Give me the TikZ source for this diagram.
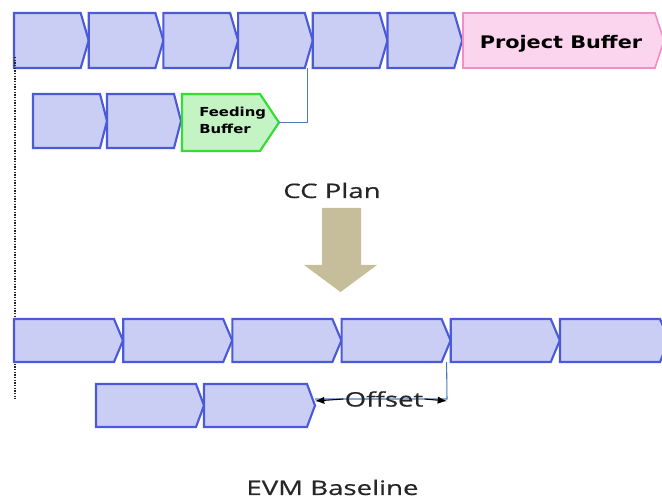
\documentclass[tikz,border=0pt]{standalone}
\usepackage{fontspec}
\setmainfont{Open Sans}
\newfontfamily\captionfont[FakeStretch=1.38,FakeBold=0.6]{Open Sans}
\newfontfamily\bufferfont[FakeStretch=1.2]{DejaVu Sans}
\usetikzlibrary{arrows.meta,calc}

\definecolor{taskfill}{HTML}{CBCEF4}
\definecolor{taskline}{HTML}{4A5AD8}
\definecolor{pbfill}{HTML}{FBD5EE}
\definecolor{pbline}{HTML}{F48CC6}
\definecolor{fbfill}{HTML}{C4F3C4}
\definecolor{fbline}{HTML}{33DD33}
\definecolor{linkline}{HTML}{4A7EBB}
\definecolor{flowarrow}{HTML}{C6BE9A}

\newdimen\pxu
\pxu=0.75pt

% chevron: #1 name, #2 style, #3 x, #4 top y, #5 body width, #6 height, #7 tip depth
\newcommand\chevron[7]{%
  \path[#2] (#3,#4) -- ++(#5,0) -- ++(#7,{#6/2}) -- ++(-#7,{#6/2}) -- ++(-#5,0) -- cycle;
  \node[inner sep=0, outer sep=0, minimum width=#5*\pxu, minimum height=#6*\pxu,
        anchor=north west] (#1) at (#3,#4) {};
  \coordinate (#1-tip) at ($(#3,#4)+(#5+#7,{#6/2})$);
}

\tikzset{
  task/.style={draw=taskline, fill=taskfill, line width=1.6pt, line join=miter},
  pbuf/.style={draw=pbline, fill=pbfill, line width=1.2pt},
  fbuf/.style={draw=fbline, fill=fbfill, line width=1.6pt},
  link/.style={draw=linkline, line width=0.8pt},
  caption/.style={font=\captionfont\fontsize{15}{17}\selectfont, text=black!85, inner sep=0, anchor=base},
  offtip/.style={black, line width=0.8pt, -{Latex[length=7pt,width=5.5pt]}},
}

\begin{document}
\begin{tikzpicture}[x=0.75pt, y=-0.75pt]
\useasboundingbox (0,0) rectangle (662,499);

% critical chain plan
\foreach \i in {0,...,5} {
  \chevron{t\i}{task}{14+74.7*\i}{13}{66.7}{55}{8}
}
\chevron{pb}{pbuf}{463}{13}{192}{55}{9}
\node[font=\bufferfont\bfseries\fontsize{13}{15}\selectfont, anchor=base] (pbtext) at (561,49) {Project Buffer};

\chevron{f0}{task}{33}{94}{67}{54}{7}
\chevron{f1}{task}{107}{94}{67}{54}{7}
\chevron{fb}{fbuf}{182}{94}{78}{57}{19}
\node[font=\bufferfont\bfseries\fontsize{9.3}{12.3}\selectfont, align=left, anchor=north west, inner sep=0]
  (fbtext) at (199,107) {Feeding\\Buffer};

\draw[link] (fb-tip) -| ([xshift=3\pxu]t3.south east);

% start line
\coordinate (startTop) at (15,57);
\coordinate (startBot) at (15,399);
\draw[black!85, line width=1.1pt, dash pattern=on 1pt off 1pt] (startTop) -- (startBot);

% transition
\node[caption] (ccplan) at (332,198) {CC Plan};
\fill[flowarrow] (322,208) -- (361,208) -- (361,265) -- (377,265) -- (340.5,292)
  -- (304,265) -- (322,265) -- cycle;

% earned value baseline
\foreach \i in {0,...,5} {
  \chevron{b\i}{task}{14+109.2*\i}{319}{100}{43}{9}
}
\chevron{g0}{task}{96}{384}{100}{43}{8}
\chevron{g1}{task}{204}{384}{103}{43}{8}

\coordinate (offL) at (315,401);
\coordinate (offR) at (447,401);
\draw[link] ([yshift=2\pxu]offL) -- ([yshift=2\pxu]offR) -- ([xshift=5\pxu]b3.south east);
\node[caption, anchor=center] (offtext) at (384,399) {Offset};
\draw[offtip] ([xshift=-1\pxu]offtext.west) -- (offL);
\draw[offtip] ([xshift=1\pxu]offtext.east) -- (offR);

\node[caption] (evm) at (332.5,495) {EVM Baseline};
\end{tikzpicture}
\end{document}
